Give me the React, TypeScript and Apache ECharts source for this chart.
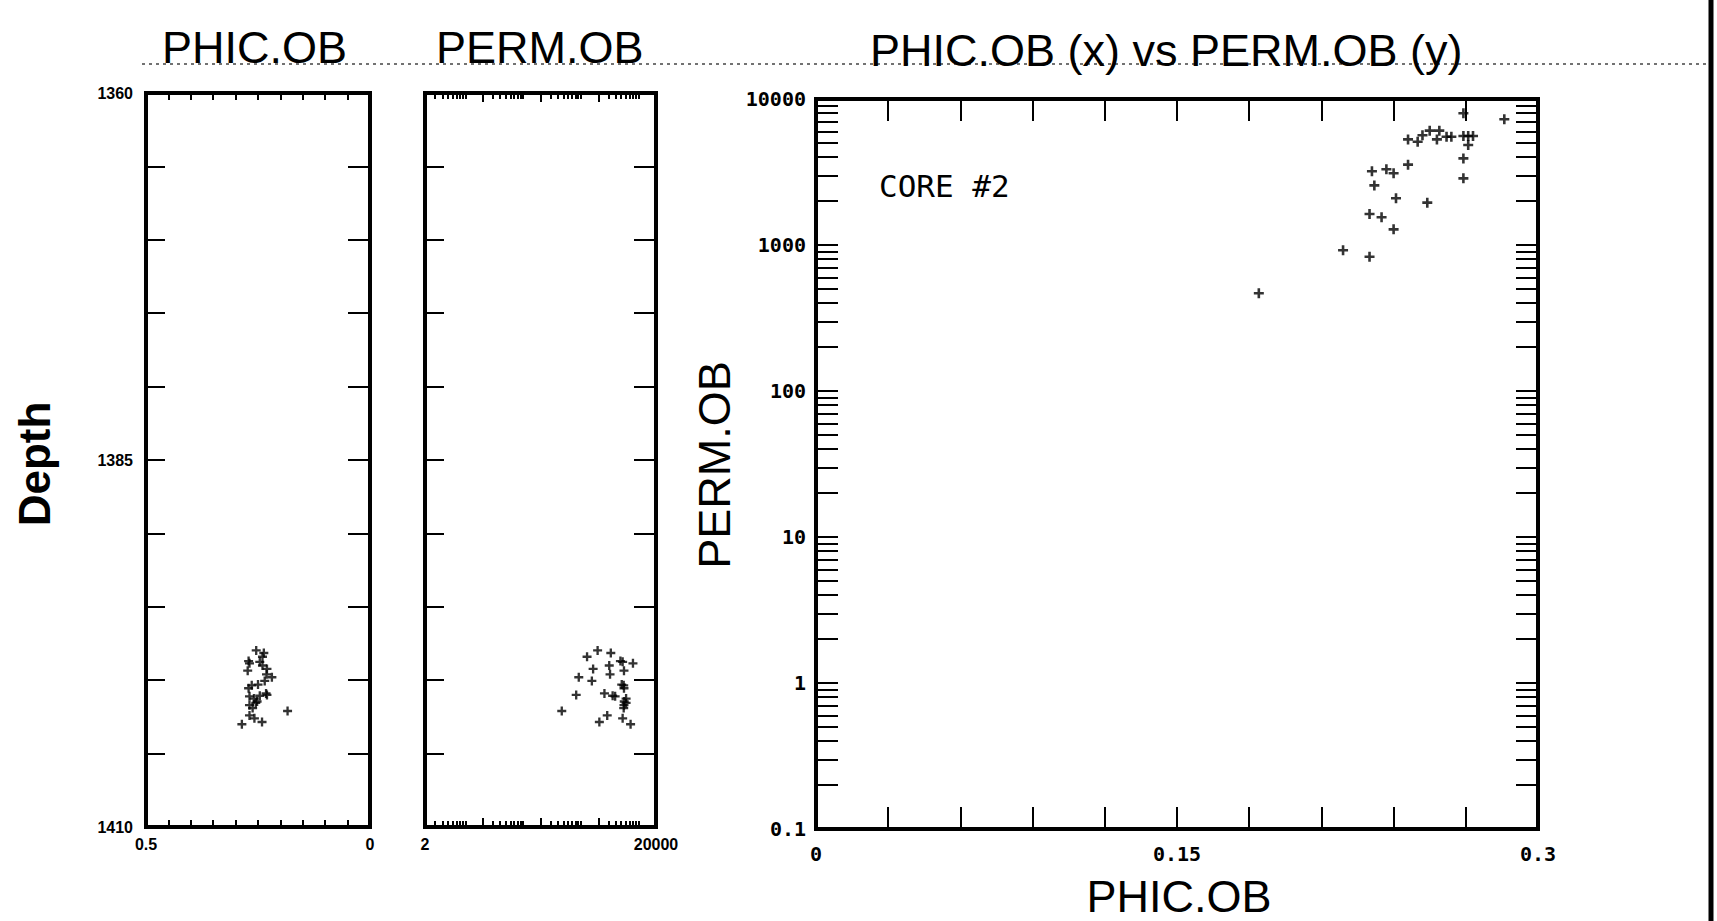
import React, { useEffect, useRef } from "react";
import * as echarts from "echarts";

// ---- sample data ----
const depth = [1397.97, 1398.15, 1398.4, 1398.7, 1398.75, 1398.85, 1399.0, 1399.23, 1399.35, 1399.6, 1399.8, 1400.05, 1400.3, 1400.35, 1400.55, 1400.9, 1401.0, 1401.06, 1401.1, 1401.25, 1401.45, 1401.55, 1401.7, 1401.9, 1402.1, 1402.4, 1402.6, 1402.85, 1403.0];
const phic = [0.254, 0.237, 0.240, 0.271, 0.246, 0.269, 0.240, 0.230, 0.273, 0.231, 0.219, 0.235, 0.250, 0.264, 0.271, 0.232, 0.230, 0.246, 0.269, 0.259, 0.252, 0.255, 0.269, 0.262, 0.184, 0.269, 0.258, 0.241, 0.286];
const perm = [1950, 3300, 1280, 4840, 5290, 7980, 3100, 1630, 5580, 3200, 920, 1550, 5100, 5520, 5580, 2560, 830, 3550, 3920, 6070, 5640, 6070, 5580, 5520, 467, 2860, 5290, 2090, 7260];

// ---- axis structure ----
const depthLabels = [1360, 1385, 1410];
const phicTrackLabels = [0.5, 0];
const permTrackLabels = [2, 20000];
const scatterXLabels = [0, 0.15, 0.3];
const scatterYLabels = [0.1, 1, 10, 100, 1000, 10000];
const logMultipliers = [1, 2, 3, 4, 5, 6, 7, 8, 9];
const permTrackDecades = [1, 10, 100, 1000, 10000];
const scatterDecades = [0.1, 1, 10, 100, 1000];

const permTrackTicks: number[] = [];
const permTrackMajorTicks: number[] = [];
permTrackDecades.forEach((d) =>
  logMultipliers.forEach((m) => {
    const v = Number((m * d).toPrecision(3));
    if (v >= 2 && v <= 20000) {
      if (m === 2) permTrackMajorTicks.push(v);
      else permTrackTicks.push(v);
    }
  })
);
const scatterYTicks: number[] = [];
scatterDecades.forEach((d) =>
  logMultipliers.forEach((m) => scatterYTicks.push(Number((m * d).toPrecision(3))))
);
scatterYTicks.push(10000);

const PLUS = "path://M-1.3,-5L1.3,-5L1.3,-1.3L5,-1.3L5,1.3L1.3,1.3L1.3,5L-1.3,5L-1.3,1.3L-5,1.3L-5,-1.3L-1.3,-1.3Z";
const SANS = "Liberation Sans, Arial, sans-serif";
const MONO = "DejaVu Sans Mono, monospace";

function fmtNum(v: number) {
  const r = Number(v.toPrecision(6));
  return String(r);
}

export default function App() {
  const ref = useRef<HTMLDivElement>(null);
  useEffect(() => {
    if (!ref.current) return;
    const chart = echarts.init(ref.current, null, { renderer: "svg" });
    const tickStyle = { color: "#000", width: 2 };
    const noLine = { show: false, onZero: false };
    const trackLabel = { fontFamily: SANS, fontWeight: "bold" as const, fontSize: 16, color: "#000" };
    const monoLabel = { fontFamily: MONO, fontWeight: "bold" as const, fontSize: 20, color: "#000" };

    const valAxis = (extra: any) => ({
      axisLine: noLine,
      splitLine: { show: false },
      ...extra,
    });

    const option: any = {
      animation: false,
      backgroundColor: "#fff",
      grid: [
        { left: 146, top: 93, width: 224, height: 734, show: true, borderColor: "#000", borderWidth: 4, backgroundColor: "transparent" },
        { left: 425, top: 93, width: 231, height: 734, show: true, borderColor: "#000", borderWidth: 4, backgroundColor: "transparent" },
        { left: 816, top: 99, width: 722, height: 730, show: true, borderColor: "#000", borderWidth: 4, backgroundColor: "transparent" },
      ],
      xAxis: [
        // 0: track 1 bottom
        valAxis({
          type: "value", gridIndex: 0, min: 0, max: 0.5, interval: 0.05, inverse: true, position: "bottom",
          axisTick: { show: true, inside: true, length: 7, lineStyle: tickStyle },
          axisLabel: { ...trackLabel, margin: 9, customValues: phicTrackLabels, formatter: (v: number) => fmtNum(v) },
        }),
        // 1: track 1 top
        valAxis({
          type: "value", gridIndex: 0, min: 0, max: 0.5, interval: 0.05, inverse: true, position: "top",
          axisTick: { show: true, inside: true, length: 7, lineStyle: tickStyle },
          axisLabel: { show: false },
        }),
        // 2: track 2 bottom
        valAxis({
          type: "log", logBase: 10, gridIndex: 1, min: 2, max: 20000, position: "bottom",
          axisTick: { show: true, inside: true, length: 6, customValues: permTrackTicks, lineStyle: tickStyle },
          axisLabel: { ...trackLabel, margin: 9, customValues: permTrackLabels, formatter: (v: number) => fmtNum(v) },
        }),
        // 3: track 2 top
        valAxis({
          type: "log", logBase: 10, gridIndex: 1, min: 2, max: 20000, position: "top",
          axisTick: { show: true, inside: true, length: 6, customValues: permTrackTicks, lineStyle: tickStyle },
          axisLabel: { show: false },
        }),
        // 4: scatter bottom
        valAxis({
          type: "value", gridIndex: 2, min: 0, max: 0.3, interval: 0.03, position: "bottom",
          axisTick: { show: true, inside: true, length: 22, lineStyle: tickStyle },
          axisLabel: { ...monoLabel, margin: 15, customValues: scatterXLabels, formatter: (v: number) => fmtNum(v) },
        }),
        // 5: scatter top
        valAxis({
          type: "value", gridIndex: 2, min: 0, max: 0.3, interval: 0.03, position: "top",
          axisTick: { show: true, inside: true, length: 22, lineStyle: tickStyle },
          axisLabel: { show: false },
        }),
        // 6: track 2 bottom, decade marks at 2 x 10^n
        valAxis({
          type: "log", logBase: 10, gridIndex: 1, min: 2, max: 20000, position: "bottom",
          axisTick: { show: true, inside: true, length: 9, customValues: permTrackMajorTicks, lineStyle: tickStyle },
          axisLabel: { show: false },
        }),
        // 7: track 2 top, decade marks
        valAxis({
          type: "log", logBase: 10, gridIndex: 1, min: 2, max: 20000, position: "top",
          axisTick: { show: true, inside: true, length: 9, customValues: permTrackMajorTicks, lineStyle: tickStyle },
          axisLabel: { show: false },
        }),
      ],
      yAxis: [
        // 0: track 1 left
        valAxis({
          type: "value", gridIndex: 0, min: 1360, max: 1410, interval: 5, inverse: true, position: "left",
          axisTick: { show: true, inside: true, length: 19, lineStyle: tickStyle },
          axisLabel: { ...trackLabel, margin: 13, customValues: depthLabels, formatter: (v: number) => fmtNum(v) },
        }),
        // 1: track 1 right
        valAxis({
          type: "value", gridIndex: 0, min: 1360, max: 1410, interval: 5, inverse: true, position: "right",
          axisTick: { show: true, inside: true, length: 22, lineStyle: tickStyle },
          axisLabel: { show: false },
        }),
        // 2: track 2 left
        valAxis({
          type: "value", gridIndex: 1, min: 1360, max: 1410, interval: 5, inverse: true, position: "left",
          axisTick: { show: true, inside: true, length: 19, lineStyle: tickStyle },
          axisLabel: { show: false },
        }),
        // 3: track 2 right
        valAxis({
          type: "value", gridIndex: 1, min: 1360, max: 1410, interval: 5, inverse: true, position: "right",
          axisTick: { show: true, inside: true, length: 22, lineStyle: tickStyle },
          axisLabel: { show: false },
        }),
        // 4: scatter left
        valAxis({
          type: "log", logBase: 10, gridIndex: 2, min: 0.1, max: 10000, position: "left",
          axisTick: { show: true, inside: true, length: 22, customValues: scatterYTicks, lineStyle: tickStyle },
          axisLabel: { ...monoLabel, margin: 10, customValues: scatterYLabels, formatter: (v: number) => fmtNum(v) },
        }),
        // 5: scatter right
        valAxis({
          type: "log", logBase: 10, gridIndex: 2, min: 0.1, max: 10000, position: "right",
          axisTick: { show: true, inside: true, length: 22, customValues: scatterYTicks, lineStyle: tickStyle },
          axisLabel: { show: false },
        }),
      ],
      series: [
        {
          type: "scatter", xAxisIndex: 0, yAxisIndex: 0, symbol: PLUS, symbolSize: 9,
          itemStyle: { color: "#000" }, silent: true,
          data: depth.map((d, i) => [phic[i], d]),
        },
        {
          type: "scatter", xAxisIndex: 2, yAxisIndex: 2, symbol: PLUS, symbolSize: 9,
          itemStyle: { color: "#000" }, silent: true,
          data: depth.map((d, i) => [perm[i], d]),
        },
        {
          type: "scatter", xAxisIndex: 4, yAxisIndex: 4, symbol: PLUS, symbolSize: 10,
          itemStyle: { color: "#000" }, silent: true,
          data: phic.map((p, i) => [p, perm[i]]),
        },
      ],
      graphic: [
        { type: "line", shape: { x1: 142, y1: 64, x2: 1717, y2: 64 }, style: { stroke: "#444", lineWidth: 1.5, lineDash: [3, 4] } },
        { type: "line", shape: { x1: 1711, y1: 0, x2: 1711, y2: 921 }, style: { stroke: "#000", lineWidth: 5 } },
        { type: "text", x: 162, y: 47, style: { text: "PHIC.OB", fontFamily: SANS, fontSize: 45, fill: "#000", align: "left", verticalAlign: "middle" } },
        { type: "text", x: 436, y: 47, style: { text: "PERM.OB", fontFamily: SANS, fontSize: 45, fill: "#000", align: "left", verticalAlign: "middle" } },
        { type: "text", x: 870, y: 50, style: { text: "PHIC.OB (x) vs PERM.OB (y)", fontFamily: SANS, fontSize: 45, fill: "#000", align: "left", verticalAlign: "middle" } },
        { type: "text", x: 34, y: 464, rotation: Math.PI / 2, style: { text: "Depth", fontFamily: SANS, fontWeight: "bold", fontSize: 44, fill: "#000", align: "center", verticalAlign: "middle" } },
        { type: "text", x: 714, y: 465, rotation: Math.PI / 2, style: { text: "PERM.OB", fontFamily: SANS, fontSize: 45, fill: "#000", align: "center", verticalAlign: "middle" } },
        { type: "text", x: 1179, y: 896, style: { text: "PHIC.OB", fontFamily: SANS, fontSize: 45, fill: "#000", align: "center", verticalAlign: "middle" } },
        { type: "text", x: 879, y: 186, style: { text: "CORE #2", fontFamily: MONO, fontSize: 31, fill: "#000", align: "left", verticalAlign: "middle" } },
      ],
    };
    chart.setOption(option);
    return () => chart.dispose();
  }, []);
  return <div ref={ref} style={{ position: "fixed", left: 0, top: 0, width: 1717, height: 921 }} />;
}
